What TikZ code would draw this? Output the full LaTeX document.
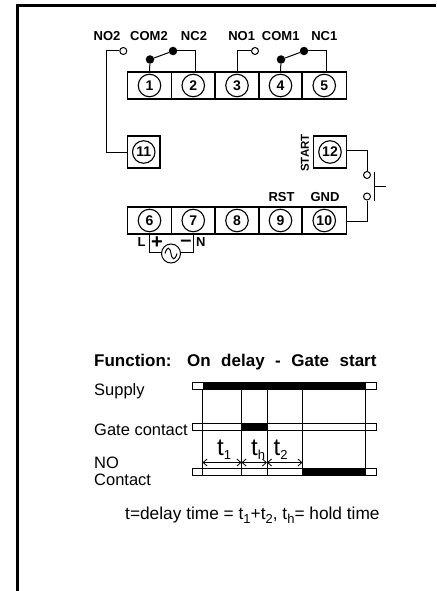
\documentclass[tikz,border=0pt]{standalone}
\usepackage{fontspec}
\setmainfont{Liberation Sans}
\usetikzlibrary{arrows.meta}
\usetikzlibrary{positioning}
\newcommand{\lowsub}[1]{\raisebox{-4pt}{\fontsize{13}{13}\selectfont #1}}
\tikzset{term/.style = {circle, draw, line width=1.1pt, minimum size=22.5pt, inner sep=0pt, font=\fontsize{14}{14}\selectfont\bfseries},
         cell/.style = {draw, line width=1.1pt, minimum height=27pt, inner sep=0pt, outer sep=0pt, anchor=north west},
         lbl/.style = {inner sep=0pt, anchor=base, font=\fontsize{13}{13}\selectfont\bfseries},
         wire/.style = {line width=1pt},
         open/.style = {circle, draw, line width=1pt, fill=white, minimum size=7pt, inner sep=0pt},
         shut/.style = {circle, fill=black, minimum size=8.5pt, inner sep=0pt},
         txt/.style = {inner sep=0pt, anchor=base west, font=\fontsize{16.5}{17}\selectfont},
         span/.style = {{Straight Barb[length=4pt,width=7pt]}-{Straight Barb[length=4pt,width=7pt]}, line width=0.8pt}}

\begin{document}
\begin{tikzpicture}[x=1pt, y=-1pt]
    \useasboundingbox (0,0) rectangle (436,591);
    \draw[line width=2.5pt] (17.5,591) -- (17.5,5.3) -- (436,5.3);

    % terminal strips
    \foreach \n/\m/\xa/\w in {1/6/127.5/44, 2/7/171.5/43.5, 3/8/215/44, 4/9/259/43, 5/10/302/44.5} {
      \node[cell, minimum width=\w pt] (c\n) at (\xa,72) {};
      \node[term] (t\n) at (c\n) {\n};
      \node[cell, minimum width=\w pt] (c\m) at (\xa,207) {};
      \node[term] (t\m) at (c\m) {\m};
    }
    \node[cell, minimum width=32.5pt, minimum height=32pt] (c11) at (127.5,136) {};
    \node[cell, minimum width=33pt, minimum height=32pt] (c12) at (313.5,136) {};
    \node[term] (t11) at (c11) {11};
    \node[term] (t12) at (c12) {12};

    % contacts
    \node[open] (no2) at (123.3,51) {};
    \node[open] (no1) at (255,51) {};
    \node[shut] (com2) at (150,59.5) {};
    \node[shut] (nc2) at (173,51) {};
    \node[shut] (com1) at (281,59.5) {};
    \node[shut] (nc1) at (304,51) {};
    \draw[wire] (no2) -- (106,51) |- (c11);
    \draw[wire] (no1) -| (c3.north);
    \draw[wire] (com2) -- (c1.north);
    \draw[wire] (com1) -- (c4.north);
    \draw[wire] (com2) -- (nc2);
    \draw[wire] (com1) -- (nc1);
    \draw[wire] (nc2) -| ([xshift=1.75pt]c2.north);
    \draw[wire] (nc1) -| ([xshift=2.25pt]c5.north);

    % start switch
    \node[open] (sw1) at (367,175) {};
    \node[open] (sw2) at (367,196.5) {};
    \draw[wire] ([yshift=2pt]c12.east) -| (sw1);
    \draw[wire] ([yshift=-1pt]c10.east) -| (sw2);
    \draw[wire] (374.5,172) -- (374.5,200.5);
    \draw[wire] (374.5,186) -- (385.5,186);

    % supply
    \node[circle, draw, line width=1pt, minimum size=19pt, inner sep=0pt] (ac) at (171,253.5) {};
    \draw[wire] ([yshift=1.5pt]ac.west) -| (c6.south);
    \draw[wire] ([yshift=1.5pt]ac.east) -| (c7.south);
    \draw[line width=1pt] (165,253.5) .. controls (167,246) and (170,247) .. (171,253.5) .. controls (172,260) and (175,261) .. (177,253.5);
    \node[inner sep=0pt, font=\fontsize{20}{20}\selectfont\bfseries] (plus) at (157,243) {+};
    \node[inner sep=0pt, font=\fontsize{20}{20}\selectfont\bfseries] (minus) at (186,243) {--};
    \node[lbl] (lL) at (141.7,246.7) {L};
    \node[lbl] (lN) at (200.7,246.7) {N};

    % labels
    \node[lbl] (lno2) at (107,40.3) {NO2};
    \node[lbl] (lcom2) at (149,40.3) {COM2};
    \node[lbl] (lnc2) at (194,40.3) {NC2};
    \node[lbl] (lno1) at (241.7,40.3) {NO1};
    \node[lbl] (lcom1) at (280.7,40.3) {COM1};
    \node[lbl] (lnc1) at (324.3,40.3) {NC1};
    \node[lbl] (lrst) at (281.5,201) {RST};
    \node[lbl] (lgnd) at (325,201) {GND};
    \node[lbl, anchor=center, rotate=90, font=\fontsize{11.5}{12}\selectfont\bfseries] (lstart) at (305,153) {START};

    % timing
    \node[txt, font=\fontsize{17}{17}\selectfont\bfseries] (title) at (94,366.7) {Function:\hspace{15.5pt}On\hspace{10.5pt}delay\hspace{10.5pt}-\hspace{10.5pt}Gate\hspace{10.5pt}start};
    \node[txt] (lsup) at (94,395) {Supply};
    \node[txt] (lgate) at (94,435) {Gate contact};
    \node[txt] (lno) at (94,468.3) {NO};
    \node[txt] (lcon) at (94,485) {Contact};

    \foreach \y in {382.5, 423, 468} {
      \draw[line width=1pt] (192.5,\y) rectangle (376.5,\y+7);
    }
    \fill (202.5,382.5) rectangle (365.5,389.5);
    \fill (241.5,423) rectangle (267,430);
    \fill (302.5,468) rectangle (365.5,475);
    \foreach \x in {202.5, 241.5, 267, 302.5, 365.5} {
      \draw[line width=0.8pt] (\x,389) -- (\x,475);
    }
    \coordinate (a1) at (202.5,462.5);
    \coordinate (a2) at (241.5,462.5);
    \coordinate (a3) at (267,462.5);
    \coordinate (a4) at (302.5,462.5);
    \draw[span] (a1) -- (a2);
    \draw[span] (a2) -- (a3);
    \draw[span] (a3) -- (a4);
    \node[txt, font=\fontsize{24}{24}\selectfont] (lt1) at (217,455) {t\lowsub{1}};
    \node[txt, font=\fontsize{24}{24}\selectfont] (lth) at (251,455) {t\lowsub{h}};
    \node[txt, font=\fontsize{24}{24}\selectfont] (lt2) at (273.5,455) {t\lowsub{2}};
    \node[txt, font=\fontsize{17.3}{18}\selectfont] (note) at (125,519.3) {t=delay time = t\lowsub{1}+t\lowsub{2}, t\lowsub{h}= hold time};
\end{tikzpicture}
\end{document}
